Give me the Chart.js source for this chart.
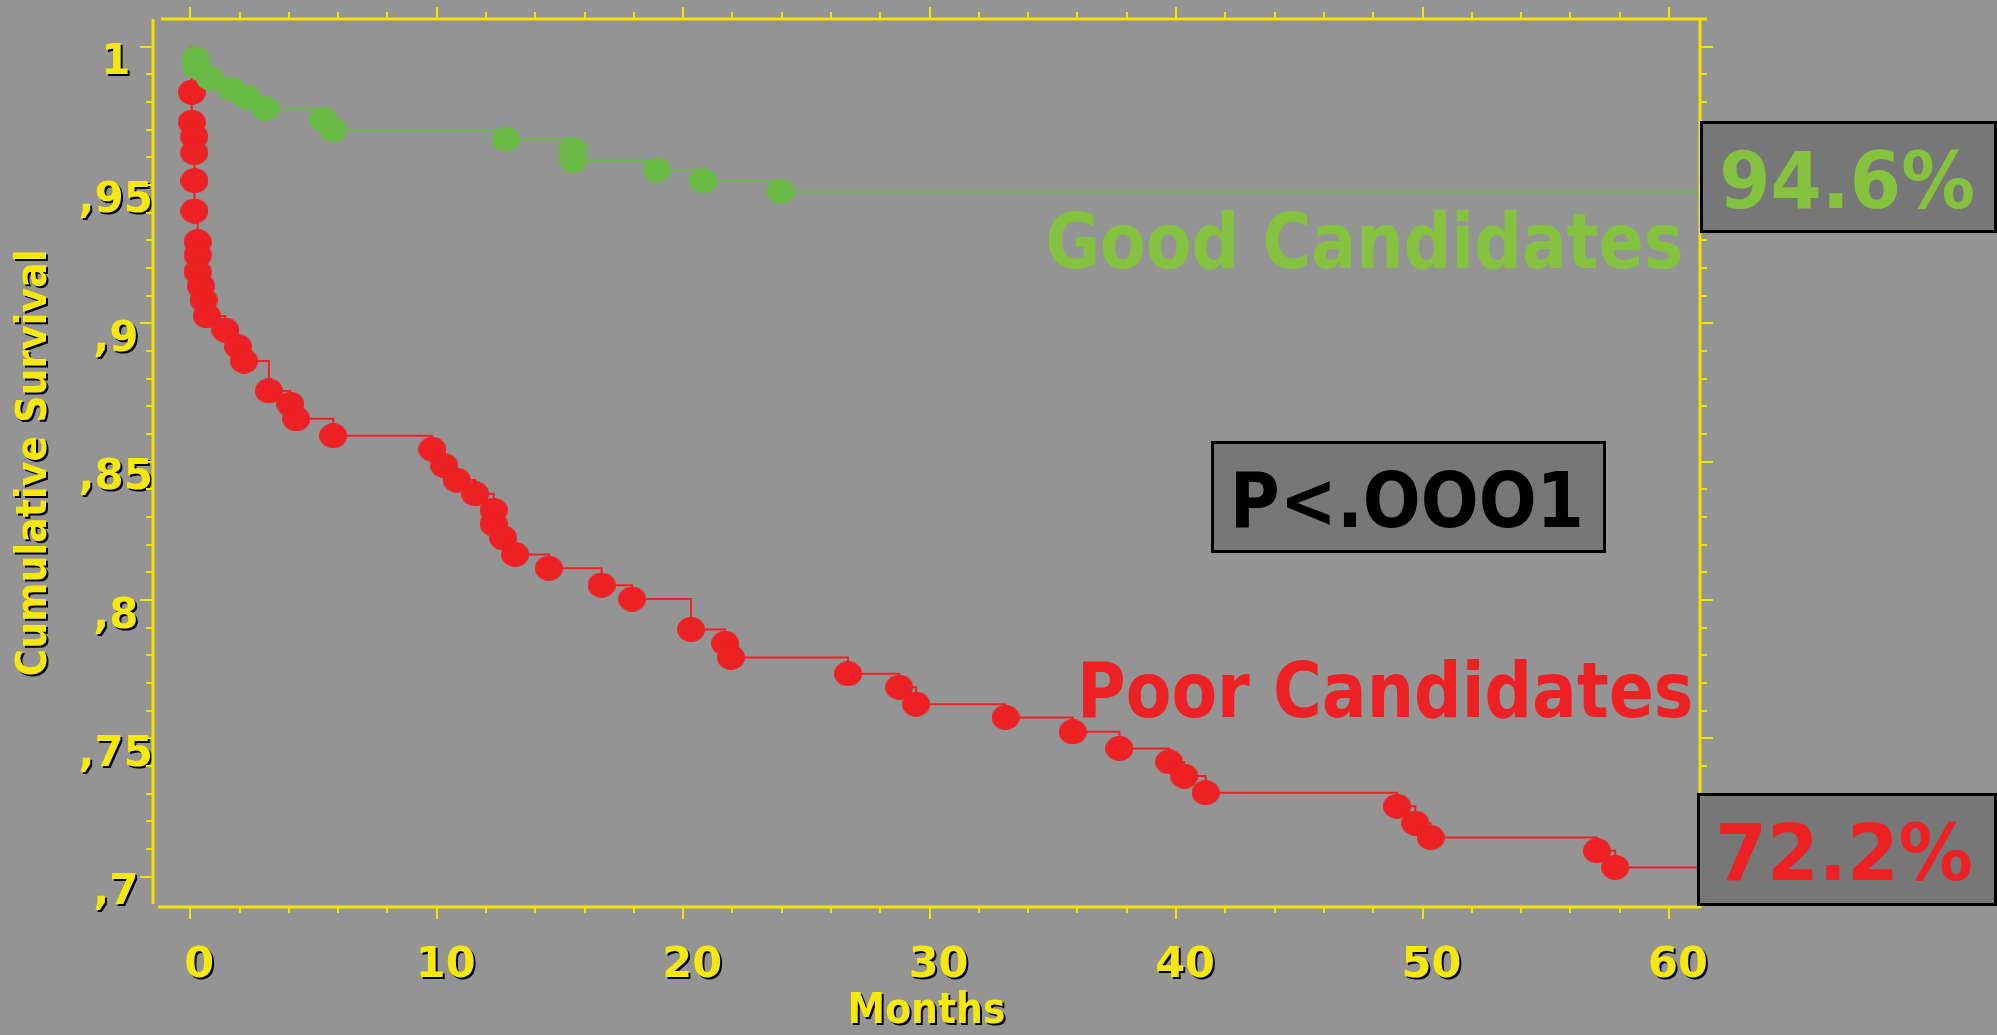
<!DOCTYPE html>
<html><head><meta charset="utf-8">
<script src="https://cdn.jsdelivr.net/npm/chart.js@4.4.1/dist/chart.umd.min.js"></script>
<style>html,body{margin:0;padding:0;background:#949494;overflow:hidden}canvas{display:block}</style>
</head><body>
<canvas id="c" width="1997" height="1035"></canvas>
<script>
// ---- data ----
const seriesNames = ['Good Candidates', 'Poor Candidates'];
const goodMonths   = [0.22, 0.24, 0.80, 1.65, 2.29, 3.06, 5.40, 5.80, 12.81, 15.54, 15.54, 18.93, 20.82, 23.96];
const goodSurvival = [0.9955, 0.9928, 0.9886, 0.9847, 0.9817, 0.9776, 0.9738, 0.9699, 0.9665, 0.9629, 0.9588, 0.9554, 0.9515, 0.9476];
const poorMonths   = [0.06, 0.06, 0.16, 0.16, 0.17, 0.17, 0.30, 0.30, 0.30, 0.43, 0.54, 0.68, 1.42, 1.94, 2.18, 3.19, 4.06, 4.30, 5.80,
                      9.82, 10.31, 10.81, 11.56, 12.31, 12.31, 12.69, 13.18, 14.55, 16.69, 17.93, 20.32, 21.70, 21.94, 26.69, 28.77,
                      29.45, 33.08, 35.81, 37.70, 39.72, 40.33, 41.20, 48.97, 49.71, 50.33, 57.08, 57.82];
const poorSurvival = [0.9835, 0.9727, 0.9675, 0.9617, 0.9516, 0.9406, 0.9295, 0.9247, 0.9186, 0.9135, 0.9085, 0.9027, 0.8976, 0.8916, 0.8864, 0.8756, 0.8708, 0.8655, 0.8594,
                      0.8545, 0.8486, 0.8434, 0.8384, 0.8325, 0.8275, 0.8225, 0.8165, 0.8115, 0.8054, 0.8004, 0.7894, 0.7844, 0.7793, 0.7734, 0.7685,
                      0.7624, 0.7576, 0.7524, 0.7464, 0.7415, 0.7364, 0.7304, 0.7255, 0.7194, 0.7142, 0.7094, 0.7034];
const followUpEnd = 62;               // months, censored tail reaches the frame
const finalLabels = ['94.6%', '72.2%'];
const pValueText = 'P<.OOO1';
const xTickValues = [0, 10, 20, 30, 40, 50, 60];
const xTickLabels = ['0', '10', '20', '30', '40', '50', '60'];
const yTickValues = [0.70, 0.75, 0.80, 0.85, 0.90, 0.95, 1.00];
const yTickLabels = [',7', ',75', ',8', ',85', ',9', ',95', '1'];
const xRange = [-1.513, 61.26];
const yRange = [0.6891, 1.0100];

// ---- styles ----
const BG = '#949494', AXIS = '#F2E400', TICKTXT = '#F5E80A';
const GREEN = '#6ABB45', GREEN_TXT = '#85C240', RED = '#ED2024';
const FAM = "'DejaVu Sans', sans-serif";
const FAM_T = "'DejaVu Sans Condensed', 'DejaVu Sans', sans-serif";

function kmData(months, surv) {
  const pts = [{x: 0, y: 1, m: false}];
  months.forEach((t, i) => pts.push({x: t, y: surv[i], m: true}));
  pts.push({x: followUpEnd, y: surv[surv.length - 1], m: false});
  return pts;
}
function dot(color) {
  const c = document.createElement('canvas'); c.width = 28; c.height = 25;
  const g = c.getContext('2d'); g.fillStyle = color; g.beginPath();
  g.ellipse(14, 12.5, 14, 12.5, 0, 0, Math.PI * 2); g.fill(); return c;
}
function fitText(ctx, text, size, color, inkLeft, inkRight, baseline) {
  ctx.save();
  ctx.font = 'bold ' + size + 'px ' + FAM; ctx.fillStyle = color;
  ctx.textAlign = 'left'; ctx.textBaseline = 'alphabetic';
  const m = ctx.measureText(text);
  const ink = m.actualBoundingBoxLeft + m.actualBoundingBoxRight;
  const sx = (inkRight - inkLeft) / ink;
  ctx.translate(inkLeft + m.actualBoundingBoxLeft * sx, baseline);
  ctx.scale(sx, 1); ctx.fillText(text, 0, 0); ctx.restore();
}
function box(ctx, l, t, r, b) {
  ctx.save(); ctx.fillStyle = '#777777'; ctx.fillRect(l, t, r - l, b - t);
  ctx.lineWidth = 3; ctx.strokeStyle = '#000'; ctx.strokeRect(l + 1.5, t + 1.5, r - l - 3, b - t - 3); ctx.restore();
}
function seg(ctx, x1, y1, x2, y2) { ctx.beginPath(); ctx.moveTo(x1, y1); ctx.lineTo(x2, y2); ctx.stroke(); }

const frame = {
  id: 'frame',
  beforeDraw(chart) { const {ctx, width, height} = chart; ctx.save(); ctx.fillStyle = BG; ctx.fillRect(0, 0, width, height); ctx.restore(); },
  afterDatasetsDraw(chart) { const ctx = chart.ctx; ctx.save(); ctx.shadowColor = '#000'; ctx.shadowOffsetX = 2; ctx.shadowOffsetY = 2; ctx.shadowBlur = 0; },
  afterDraw(chart) {
    const ctx = chart.ctx; ctx.restore();
    const a = chart.chartArea, x = chart.scales.x, y = chart.scales.y;
    ctx.save(); ctx.strokeStyle = AXIS; ctx.lineCap = 'butt';
    ctx.lineWidth = 3;
    seg(ctx, a.left, a.top, a.left, a.bottom - 3);
    seg(ctx, a.left + 5, a.bottom, a.right + 1, a.bottom);
    seg(ctx, a.left + 8, a.top, a.right + 7, a.top);
    seg(ctx, a.right, a.top, a.right, a.bottom);
    ctx.lineWidth = 2;
    for (let k = 0; k <= 30; k++) {
      const major = k % 5 === 0, px = Math.round(x.getPixelForValue(k * 2));
      seg(ctx, px, a.bottom, px, a.bottom + (major ? 12 : 6));
      seg(ctx, px, a.top, px, a.top - (major ? 12 : 7));
    }
    for (let k = 70; k <= 100; k++) {
      const major = k % 5 === 0, py = Math.round(y.getPixelForValue(k / 100));
      seg(ctx, a.left - (major ? 13 : 7), py, a.left, py);
      seg(ctx, a.right, py, a.right + (major ? 13 : 7), py);
    }
    ctx.restore();
    // annotations
    box(ctx, 1700, 121, 1997, 233);
    box(ctx, 1697, 793, 1997, 906);
    box(ctx, 1211, 441, 1606, 553);
    fitText(ctx, finalLabels[0], 78, GREEN_TXT, 1723, 1973, 208);
    fitText(ctx, finalLabels[1], 78, RED, 1720, 1971, 880);
    fitText(ctx, pValueText, 77, '#000', 1236, 1580, 527);
    fitText(ctx, seriesNames[0], 77, GREEN_TXT, 1048, 1681, 268);
    fitText(ctx, seriesNames[1], 77, RED, 1083, 1691, 717);
  }
};

const markerRadius = c => (c.raw && c.raw.m ? 13 : 0);
new Chart(document.getElementById('c'), {
  type: 'line',
  data: {
    datasets: [
      {label: seriesNames[0], data: kmData(goodMonths, goodSurvival), borderColor: GREEN, borderWidth: 2,
       stepped: 'before', pointStyle: dot(GREEN), pointRadius: markerRadius, pointBackgroundColor: GREEN, pointBorderWidth: 0, fill: false},
      {label: seriesNames[1], data: kmData(poorMonths, poorSurvival), borderColor: RED, borderWidth: 2,
       stepped: 'before', pointStyle: dot(RED), pointRadius: markerRadius, pointBackgroundColor: RED, pointBorderWidth: 0, fill: false}
    ]
  },
  options: {
    responsive: false, animation: false, devicePixelRatio: 1, events: [],
    layout: {padding: {top: 19, right: 297, bottom: 0, left: 0}},
    plugins: {legend: {display: false}, tooltip: {enabled: false}},
    scales: {
      x: {
        type: 'linear', min: xRange[0], max: xRange[1],
        afterBuildTicks: s => { s.ticks = xTickValues.map(v => ({value: v})); },
        afterFit: s => { s.height = 128; s.paddingLeft = 0; s.paddingRight = 0; },
        grid: {display: false, drawTicks: false, z: 1}, border: {display: false},
        ticks: {z: 1, color: TICKTXT, font: {family: FAM, size: 43, weight: 'bold'}, padding: 33, labelOffset: 9,
                maxRotation: 0, minRotation: 0, autoSkip: false, callback: (v, i) => xTickLabels[i]},
        title: {display: true, text: 'Months', color: TICKTXT, font: {family: FAM_T, size: 42, weight: 'bold', lineHeight: 1},
                padding: {top: 0, bottom: 1.5}}
      },
      y: {
        type: 'linear', min: yRange[0], max: yRange[1],
        afterBuildTicks: s => { s.ticks = yTickValues.map(v => ({value: v})); },
        afterFit: s => { s.width = 153; s.paddingTop = 0; s.paddingBottom = 0; },
        grid: {display: false, drawTicks: false, z: 1}, border: {display: false},
        ticks: {z: 1, color: TICKTXT, font: {family: FAM, size: 42, weight: 'bold'}, padding: 0, crossAlign: 'center',
                labelOffset: 16.5, autoSkip: false, callback: (v, i) => yTickLabels[i]},
        title: {display: true, text: 'Cumulative Survival', color: TICKTXT, font: {family: FAM_T, size: 42, weight: 'bold', lineHeight: 1},
                padding: {top: 14, bottom: 0}}
      }
    }
  },
  plugins: [frame]
});
</script>
</body></html>
